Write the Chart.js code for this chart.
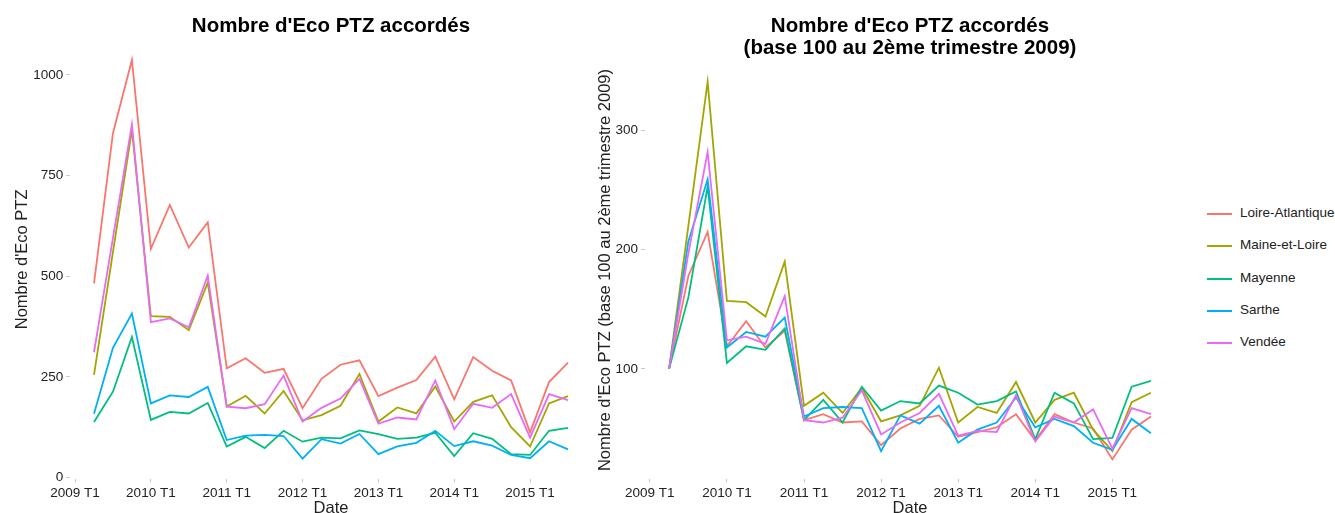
<!DOCTYPE html>
<html lang="fr">
<head>
<meta charset="UTF-8">
<title>Nombre d'Eco PTZ accordés</title>
<script src="https://cdn.jsdelivr.net/npm/chart.js"></script>
<style>
  body { margin: 0; background: #fff; font-family: "Liberation Sans", Arial, sans-serif; }
  #wrap { position: relative; width: 1335px; height: 513px; overflow: hidden; }
  canvas { position: absolute; top: 0; }
  .title { position: absolute; font-weight: bold; font-size: 20.5px; line-height: 22px; text-align: center; color: #000; white-space: nowrap; }
  .leg { position: absolute; left: 1207px; height: 16px; font-size: 13.5px; color: #222; white-space: nowrap; }
  .leg span.line { position: absolute; left: 0; top: 7px; width: 25px; height: 2px; }
  .leg span.txt { position: absolute; left: 33px; top: -1px; }
</style>
</head>
<body>
<div id="wrap">
  <canvas id="left" width="600" height="513" style="left:0"></canvas>
  <canvas id="right" width="600" height="513" style="left:590px"></canvas>
  <div class="title" style="left:131px; width:400px; top:14px;">Nombre d'Eco PTZ accordés</div>
  <div class="title" style="left:710px; width:400px; top:14px;">Nombre d'Eco PTZ accordés<br>(base 100 au 2ème trimestre 2009)</div>
  <div id="legend"></div>
</div>
<script>
// trimestres 2009 T2 -> 2015 T3
const quarters = ['2009 T2', '2009 T3', '2009 T4',
  '2010 T1', '2010 T2', '2010 T3', '2010 T4',
  '2011 T1', '2011 T2', '2011 T3', '2011 T4',
  '2012 T1', '2012 T2', '2012 T3', '2012 T4',
  '2013 T1', '2013 T2', '2013 T3', '2013 T4',
  '2014 T1', '2014 T2', '2014 T3', '2014 T4',
  '2015 T1', '2015 T2', '2015 T3'];

const departements = ['Loire-Atlantique', 'Maine-et-Loire', 'Mayenne', 'Sarthe', 'Vendée'];
const colors = ['#F8766D', '#A3A500', '#00BF7D', '#00B0F6', '#E76BF3'];

// nombre d'Eco PTZ
const loireAtlantique = [482, 855, 1037, 568, 677, 571, 634, 271, 296, 260, 270, 172, 245, 280, 291, 202, 223, 242, 300, 194, 299, 265, 241, 112, 237, 285];
const maineEtLoire = [255, 560, 863, 401, 399, 366, 484, 176, 203, 159, 215, 142, 155, 178, 257, 139, 174, 159, 226, 139, 188, 204, 125, 77, 184, 202];
const mayenne = [138, 213, 349, 143, 163, 159, 185, 77, 101, 73, 116, 89, 99, 97, 117, 108, 96, 99, 111, 53, 110, 96, 58, 56, 116, 123];
const sarthe = [158, 322, 407, 184, 204, 200, 225, 93, 104, 106, 103, 47, 95, 84, 108, 58, 77, 86, 116, 78, 90, 79, 56, 48, 90, 70];
const vendee = [311, 595, 877, 386, 395, 373, 501, 176, 172, 182, 253, 139, 173, 196, 245, 134, 149, 144, 241, 120, 183, 173, 207, 99, 207, 192];

// base 100 au 2eme trimestre 2009
const baseLoireAtlantique = [100, 178, 215, 119, 140, 118, 132, 57, 62, 55, 56, 36, 50, 58, 61, 43, 47, 51, 62, 40, 62, 55, 50, 24, 49, 60];
const baseMaineEtLoire = [100, 220, 341, 157, 156, 144, 190, 69, 80, 63, 84, 56, 61, 69, 101, 55, 68, 63, 89, 55, 74, 80, 49, 31, 72, 80];
const baseMayenne = [100, 160, 253, 105, 119, 116, 134, 57, 74, 55, 85, 65, 73, 71, 86, 80, 70, 73, 81, 41, 80, 71, 41, 42, 85, 90];
const baseSarthe = [100, 207, 259, 118, 131, 127, 143, 60, 67, 68, 67, 31, 61, 54, 69, 38, 49, 55, 76, 51, 58, 52, 38, 32, 58, 46];
const baseVendee = [100, 197, 282, 124, 127, 121, 161, 57, 55, 59, 82, 45, 55, 63, 79, 44, 48, 47, 78, 39, 60, 55, 66, 33, 67, 62];

const xTicks = [2009, 2010, 2011, 2012, 2013, 2014, 2015];
const leftYTicks = [0, 250, 500, 750, 1000];
const rightYTicks = [100, 200, 300];

const tickFont = { family: '"Liberation Sans", Arial, sans-serif', size: 13.5 };
const titleFont = { family: '"Liberation Sans", Arial, sans-serif', size: 16.5 };
const textColor = '#222';
const tickColor = '#c8c8c8';

function quarterToX(q) {
  return +q.slice(0, 4) + (+q.slice(-1) - 1) / 4;
}

function makeDatasets(series) {
  return series.map((values, i) => ({
    label: departements[i],
    data: values.map((v, j) => ({ x: quarterToX(quarters[j]), y: v })),
    borderColor: colors[i],
    backgroundColor: colors[i],
    borderWidth: 1.8,
    pointRadius: 0,
    tension: 0,
    fill: false,
    order: series.length - i
  }));
}

function xScale() {
  return {
    type: 'linear',
    min: 2008.9375,
    max: 2015.8125,
    grid: { display: true, drawOnChartArea: false, drawTicks: true, tickLength: 4, color: tickColor },
    border: { display: false },
    afterBuildTicks: s => { s.ticks = xTicks.map(v => ({ value: v })); },
    ticks: { callback: v => v + ' T1', font: tickFont, color: textColor, padding: 3, maxRotation: 0, autoSkip: false },
    title: { display: true, text: 'Date', font: Object.assign({}, titleFont, { lineHeight: 0.55 }), color: textColor, padding: 0 },
    afterFit: s => { s.height = 34.5; }
  };
}

function yScale(min, max, ticks, title, width, titlePad) {
  return {
    type: 'linear',
    min: min,
    max: max,
    grid: { display: true, drawOnChartArea: false, drawTicks: true, tickLength: 4, color: tickColor },
    border: { display: false },
    afterBuildTicks: s => { s.ticks = ticks.map(v => ({ value: v })); },
    ticks: { callback: v => String(v), font: tickFont, color: textColor, padding: 3 },
    title: { display: true, text: title, font: titleFont, color: textColor, padding: { top: titlePad, bottom: 0 } },
    afterFit: s => { s.width = width; }
  };
}

const common = {
  responsive: false,
  animation: false,
  plugins: { legend: { display: false }, tooltip: { enabled: false } }
};

new Chart(document.getElementById('left'), {
  type: 'line',
  data: { datasets: makeDatasets([loireAtlantique, maineEtLoire, mayenne, sarthe, vendee]) },
  options: Object.assign({}, common, {
    layout: { padding: { left: 0, right: 8.3, top: 40.2, bottom: 0 } },
    scales: {
      x: xScale(),
      y: yScale(-2.5, 1086, leftYTicks, "Nombre d'Eco PTZ", 70.3, 12.6)
    }
  })
});

new Chart(document.getElementById('right'), {
  type: 'line',
  data: { datasets: makeDatasets([baseLoireAtlantique, baseMaineEtLoire, baseMayenne, baseSarthe, baseVendee]) },
  options: Object.assign({}, common, {
    layout: { padding: { left: 0, right: 15, top: 61.5, bottom: 0 } },
    scales: {
      x: xScale(),
      y: yScale(8, 358, rightYTicks, "Nombre d'Eco PTZ (base 100 au 2ème trimestre 2009)", 55, 5.8)
    }
  })
});

// legende
const legend = document.getElementById('legend');
departements.forEach((name, i) => {
  const item = document.createElement('div');
  item.className = 'leg';
  item.style.top = (206 + i * 32.3) + 'px';
  item.innerHTML = '<span class="line" style="background:' + colors[i] + '"></span><span class="txt">' + name + '</span>';
  legend.appendChild(item);
});
</script>
</body>
</html>
